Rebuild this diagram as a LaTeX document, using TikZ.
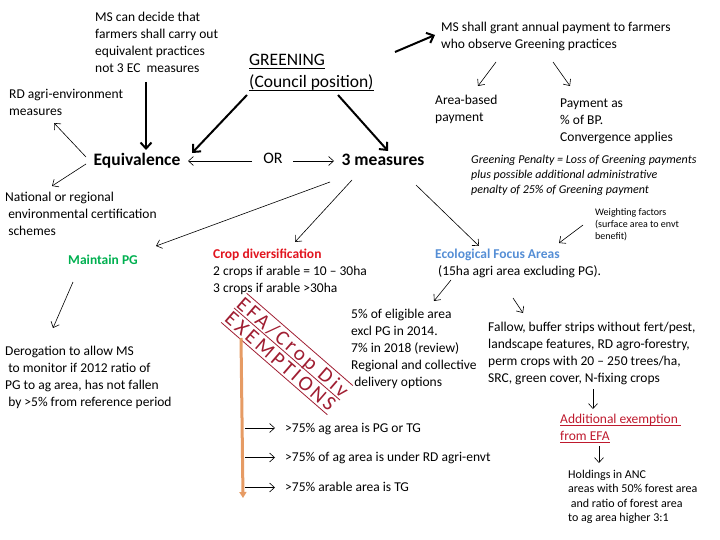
\documentclass[tikz,border=0pt]{standalone}
\usepackage{fontspec}
\setmainfont{Carlito}
\newfontfamily\stampfont[LetterSpace=14]{Carlito}
\usetikzlibrary{arrows.meta}
\definecolor{cdred}{RGB}{225,20,30}
\definecolor{efablue}{RGB}{85,142,213}
\definecolor{pggreen}{RGB}{0,176,80}
\definecolor{exred}{RGB}{190,25,45}
\definecolor{stampred}{RGB}{160,30,50}
\definecolor{orangeline}{RGB}{230,155,100}
\newcommand{\ulx}[1]{\setbox0\hbox{#1}\rlap{\rule[-3pt]{\wd0}{0.9pt}}\box0}
\begin{document}
\begin{tikzpicture}[x=1pt,y=-1pt,
  txt/.style={inner sep=0pt, anchor=base west, align=left, font=\fontsize{13.5}{17}\selectfont},
  small/.style={txt, font=\fontsize{12}{14.6}\selectfont},
  tiny/.style={txt, font=\fontsize{10}{12.3}\selectfont},
  big/.style={inner sep=0pt, anchor=base, font=\fontsize{17.5}{21}\selectfont\bfseries},
  thinarr/.style={-{Straight Barb[length=5pt,width=9pt]}, line width=0.6pt},
  thickarr/.style={-{Straight Barb[length=6pt,width=11pt]}, line width=2pt},
  stampline/.style={stampred, line width=0.8pt},
]
\useasboundingbox (0,0) rectangle (720,540);

% texts (multi-line nodes: base = baseline of last line)
\node[txt] (msdecide) at (95,72.5) {MS can decide that\\farmers shall carry out\\equivalent practices\\not 3 EC\ \ measures};
\node[txt, font=\fontsize{17.5}{22}\selectfont] (greening) at (249,87.7) {\ulx{GREENING}\\\ulx{(Council position)}};
\node[txt] (msgrant) at (441,48.5) {MS shall grant annual payment to farmers\\who observe Greening practices};
\node[txt] (rd) at (9,115.5) {RD agri-environment\\measures};
\node[big] (eq) at (137,166) {Equivalence};
\node[inner sep=0pt, anchor=base, font=\fontsize{16}{18}\selectfont] (or) at (273,163.5) {OR};
\node[big] (three) at (383,166) {3 measures};
\node[txt] (nat) at (5,235.5) {National or regional\\\ environmental certification\\\ schemes};
\node[txt] (area) at (435,121.5) {Area-based\\payment};
\node[txt] (pay) at (560,141.5) {Payment as\\\% of BP.\\Convergence applies};
\node[small, font=\fontsize{12}{14.6}\selectfont\itshape] (pen) at (471,193.2) {Greening Penalty = Loss of Greening payments\\plus possible additional administrative\\penalty of 25\% of Greening payment};
\node[tiny] (weight) at (595,239.6) {Weighting factors\\(surface area to envt\\benefit)};
\node[inner sep=0pt, anchor=base, font=\fontsize{13.5}{17}\selectfont\bfseries, text=pggreen] (pg) at (103,264.5) {Maintain PG};
\node[txt] (crop) at (213,292.5) {\textcolor{cdred}{\bfseries Crop diversification}\\2 crops if arable = 10 -- 30ha\\3 crops if arable >30ha};
\node[txt] (efa) at (435,275.5) {\textcolor{efablue}{\bfseries Ecological Focus Areas}\\\hspace{3pt}(15ha agri area excluding PG).};
\node[txt] (five) at (351,386.5) {5\% of eligible area\\excl PG in 2014.\\7\% in 2018 (review)\\Regional and collective\\\ delivery options};
\node[txt] (fallow) at (488,382.5) {Fallow, buffer strips without fert/pest,\\landscape features, RD agro-forestry,\\perm crops with 20 -- 250 trees/ha,\\SRC, green cover, N-fixing crops};
\node[txt, text=exred] (addex) at (560,440) {\ulx{Additional exemption\ }\\\ulx{from EFA}};
\node[small] (hold) at (568,521.8) {Holdings in ANC\\areas with 50\% forest area\\\ and ratio of forest area\\to ag area higher 3:1};
\node[txt] (derog) at (5,406.5) {Derogation to allow MS\\\ to monitor if 2012 ratio of\\PG to ag area, has not fallen\\\ by >5\% from reference period};
\node[txt] (ex1) at (285,432.5) {>75\% ag area is PG or TG};
\node[txt] (ex2) at (285,461.5) {>75\% of ag area is under RD agri-envt};
\node[txt] (ex3) at (285,491.5) {>75\% arable area is TG};

% stamp
\node[inner sep=0pt, outer sep=0pt, inner ysep=2.5pt, align=center, rotate=-41, text=stampred,
      font=\stampfont\fontsize{21}{19}\selectfont] (stamp) at (287,354) {EFA/Crop Div\\EXEMPTIONS};
\draw[stampline] (stamp.north west) -- (stamp.north east);
\draw[stampline] (stamp.west) -- (stamp.east);
\draw[stampline] (stamp.south west) -- (stamp.south east);

% coordinates for connector ends
\coordinate (a1s) at (395,52);  \coordinate (a1e) at (435,35);
\coordinate (b1s) at (146,82);  \coordinate (b1e) at (146,150);
\coordinate (g1s) at (247,95);  \coordinate (g1e) at (192,153);
\coordinate (g2s) at (338,95);  \coordinate (g2e) at (388,151);
\coordinate (e1s) at (86,157);  \coordinate (e1e) at (54,123);
\coordinate (e2s) at (86,164);  \coordinate (e2e) at (52,186);
\coordinate (o1s) at (252,161); \coordinate (o1e) at (188,161);
\coordinate (o2s) at (293,161); \coordinate (o2e) at (334,161);
\coordinate (p1s) at (496,62);  \coordinate (p1e) at (478,86);
\coordinate (p2s) at (553,62);  \coordinate (p2e) at (570,86);
\coordinate (w1s) at (583,225); \coordinate (w1e) at (559,243);
\coordinate (m1s) at (330,182); \coordinate (m1e) at (156,246);
\coordinate (m2s) at (352,180); \coordinate (m2e) at (295,242);
\coordinate (m3s) at (416,185); \coordinate (m3e) at (479,246);
\coordinate (f1s) at (451,280); \coordinate (f1e) at (434,301);
\coordinate (f2s) at (513,298); \coordinate (f2e) at (523,313);
\coordinate (d1s) at (593,389); \coordinate (d1e) at (593,409);
\coordinate (d2s) at (599,446); \coordinate (d2e) at (599,463);
\coordinate (pgs) at (73,282);  \coordinate (pge) at (53,328);
\coordinate (ot) at (241,338);  \coordinate (ob) at (243,498);
\coordinate (x1) at (245,428);  \coordinate (x2) at (245,457.5); \coordinate (x3) at (245,487.5);

% thick arrows
\draw[thickarr] (a1s) -- (a1e);
\draw[thickarr] (b1s) -- (b1e);
\draw[thickarr] (g1s) -- (g1e);
\draw[thickarr] (g2s) -- (g2e);

% thin arrows
\draw[thinarr] (e1s) -- (e1e);
\draw[thinarr] (e2s) -- (e2e);
\draw[thinarr] (o1s) -- (o1e);
\draw[thinarr] (o2s) -- (o2e);
\draw[thinarr] (p1s) -- (p1e);
\draw[thinarr] (p2s) -- (p2e);
\draw[thinarr] (w1s) -- (w1e);
\draw[thinarr] (m1s) -- (m1e);
\draw[thinarr] (m2s) -- (m2e);
\draw[thinarr] (m3s) -- (m3e);
\draw[thinarr] (f1s) -- (f1e);
\draw[thinarr] (f2s) -- (f2e);
\draw[thinarr] (d1s) -- (d1e);
\draw[thinarr] (d2s) -- (d2e);
\draw[thinarr] (pgs) -- (pge);

% orange arrow
\draw[orangeline, line width=3pt, -{Triangle[length=6pt,width=7pt]}] (ot) -- (ob);
\draw[thinarr] (x1) -- ([xshift=-10pt]ex1.west |- x1);
\draw[thinarr] (x2) -- ([xshift=-10pt]ex2.west |- x2);
\draw[thinarr] (x3) -- ([xshift=-10pt]ex3.west |- x3);
\end{tikzpicture}
\end{document}
